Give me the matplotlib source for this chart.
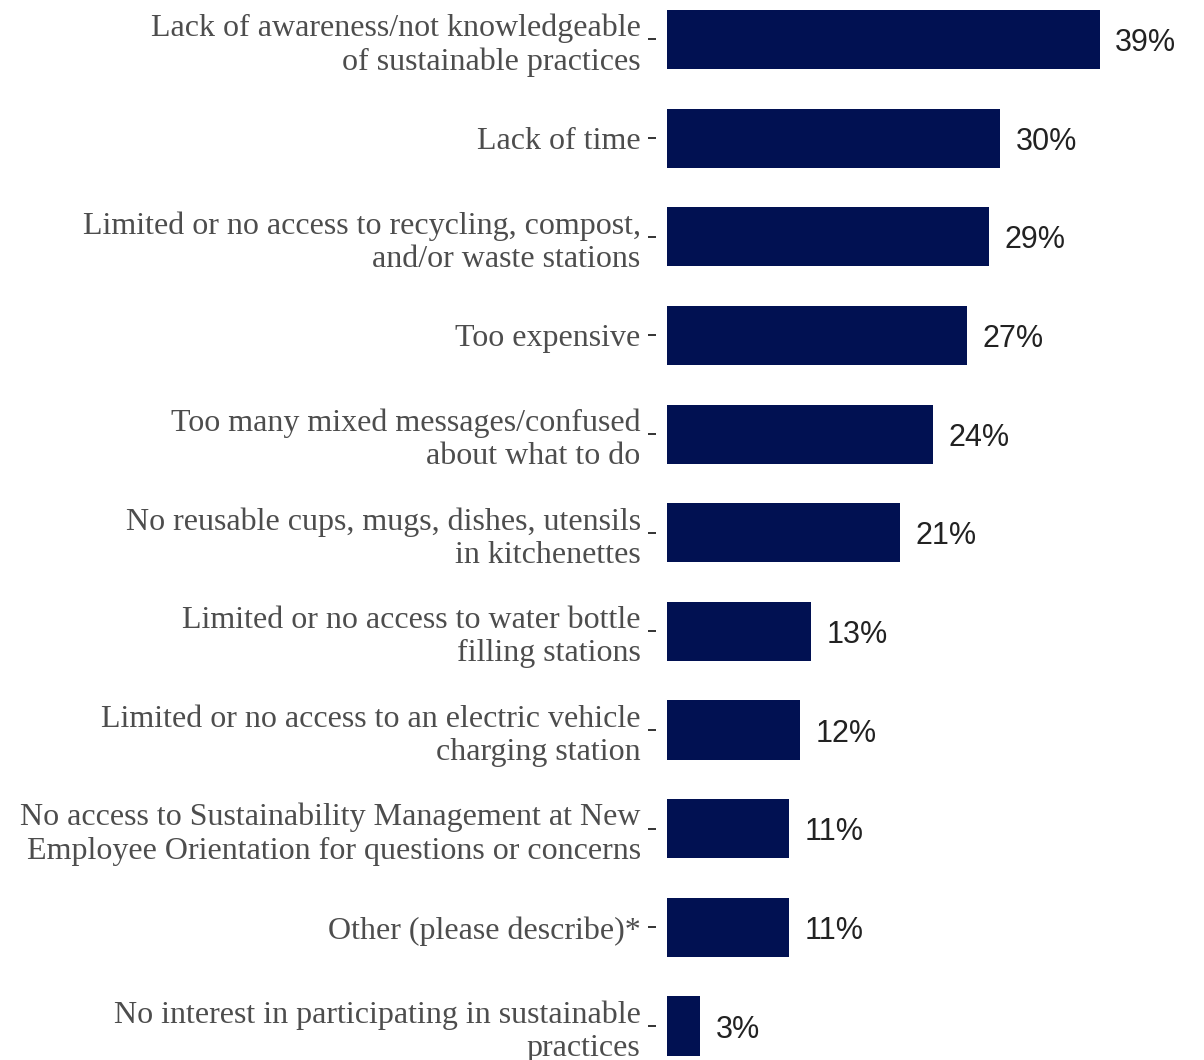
import matplotlib.pyplot as plt

# survey barriers and share of respondents
labels = [
    "Lack of awareness/not knowledgeable\nof sustainable practices",
    "Lack of time",
    "Limited or no access to recycling, compost,\nand/or waste stations",
    "Too expensive",
    "Too many mixed messages/confused\nabout what to do",
    "No reusable cups, mugs, dishes, utensils\nin kitchenettes",
    "Limited or no access to water bottle\nfilling stations",
    "Limited or no access to an electric vehicle\ncharging station",
    "No access to Sustainability Management at New\nEmployee Orientation for questions or concerns",
    "Other (please describe)*",
    "No interest in participating in sustainable\npractices",
]
values = [39, 30, 29, 27, 24, 21, 13, 12, 11, 11, 3]

bar_color = "#011152"

fig = plt.figure(figsize=(12.04, 10.6), dpi=100)
ax = fig.add_axes([656 / 1204, 0, 538 / 1204, 1])

ypos = list(range(len(values)))
ax.barh(ypos, values, height=0.6, color=bar_color)

for y, v in zip(ypos, values):
    ax.text(v + 1.4, y, f"{v}%", va="center_baseline", ha="left",
            fontsize=22, family="Liberation Sans", color="#222222")

ax.set_xlim(-1, 47.5)
ax.set_ylim(10.344, -0.400)

ax.set_yticks(ypos)
ax.set_yticklabels(labels, family="Liberation Serif", fontsize=23,
                   color="#4d4d4d", linespacing=1.2)
ax.tick_params(axis="y", length=6, width=1.4, color="#333333", pad=5)
ax.set_xticks([])

for s in ax.spines.values():
    s.set_visible(False)

fig.savefig("out.png", dpi=100)
